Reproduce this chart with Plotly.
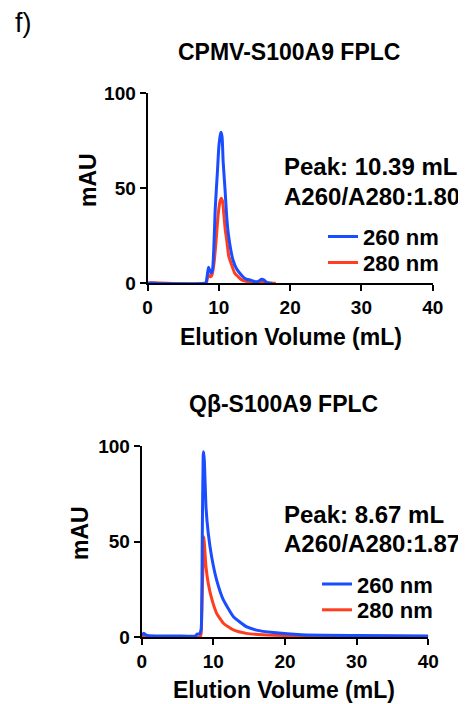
import plotly.graph_objects as go

# the page body adds an 8 px offset; the figure is sized so that it ends at the window edge
OFF = 8
W, H = 466 - OFF, 704 - OFF

# ---- data ----
cpmv_x_260 = [0, 0.5, 1.0, 8.0, 8.2, 8.4, 8.55, 8.7, 8.9, 9.1, 9.5, 9.8, 10.0, 10.2, 10.31, 10.45, 10.6, 10.87, 11.1, 11.33, 11.7, 12.0, 12.5, 13.0, 13.5, 14.0, 14.4, 15.0, 15.5, 16.0, 16.3, 16.7, 17.0, 17.5]
cpmv_y_260 = [0, 0.3, 0, 0, 0.5, 5, 8.5, 7, 5.5, 7, 40, 59, 72, 78, 79.5, 77, 64, 49, 35, 26, 17, 12, 7.5, 5, 3, 2, 1.7, 0.9, 1.0, 2.1, 1.8, 0.5, 0.2, 0]
cpmv_x_280 = [0, 1.0, 8.2, 8.4, 8.6, 8.8, 9.0, 9.3, 9.6, 9.9, 10.15, 10.31, 10.5, 10.7, 10.9, 11.1, 11.4, 11.8, 12.2, 12.7, 13.2, 13.8, 14.5, 15.5, 16.0, 16.5, 17.5, 18.0]
cpmv_y_280 = [0, 0.3, 0, 3, 4.5, 3.5, 4, 10, 22, 36, 43, 44.7, 43.5, 36, 28, 22.8, 14, 9.6, 5.5, 3.5, 1.8, 1.0, 0.5, 0.3, 0.8, 0.3, 0, 0]

qb_x_260 = [0, 0.3, 0.6, 1.0, 5.0, 7.5, 7.7, 8.1, 8.3, 8.45, 8.58, 8.65, 8.75, 8.97, 9.29, 9.76, 10.46, 11.4, 12.8, 14.6, 16.0, 18.4, 22.3, 30.0, 40.0]
qb_y_260 = [1, 2, 1, 0.6, 0.5, 0.5, 1.5, 1.8, 4, 50, 95, 97, 92, 68.2, 54.3, 42, 29.8, 19.4, 10.6, 5.4, 3.6, 2.3, 1.2, 0.8, 0.5]
qb_x_280 = [0, 1.0, 5.0, 8.2, 8.3, 8.5, 8.69, 8.8, 8.97, 9.29, 9.76, 10.46, 11.4, 12.8, 14.6, 18.4, 25.0, 40.0]
qb_y_280 = [0.3, 0.2, 0.2, 0.3, 2, 30, 52.5, 46, 36.8, 28, 20.2, 12.4, 7.2, 3.7, 1.9, 0.9, 0.5, 0.3]

x_ticks = [0, 10, 20, 30, 40]
y_ticks = [0, 50, 100]
colors = {"260 nm": "#1a4dff", "280 nm": "#ff3d1f"}

titles = ["CPMV-S100A9 FPLC", "Qβ-S100A9 FPLC"]
peak_text = ["Peak: 10.39 mL", "Peak: 8.67 mL"]
ratio_text = ["A260/A280:1.80", "A260/A280:1.87"]

FONT = "Liberation Sans, Arial, Helvetica, sans-serif"

def px2x(p):
    return (p - OFF) / W

def px2y(p):
    return 1 - (p - OFF) / H

fig = go.Figure()

# top panel traces (red first so blue sits on top)
fig.add_trace(go.Scatter(x=cpmv_x_280, y=cpmv_y_280, mode="lines", name="280 nm",
                         line=dict(color=colors["280 nm"], width=3, shape="spline", smoothing=0.6),
                         xaxis="x", yaxis="y", legend="legend2"))
fig.add_trace(go.Scatter(x=cpmv_x_260, y=cpmv_y_260, mode="lines", name="260 nm",
                         line=dict(color=colors["260 nm"], width=3, shape="spline", smoothing=0.6),
                         xaxis="x", yaxis="y", legend="legend"))
# bottom panel
fig.add_trace(go.Scatter(x=qb_x_280, y=qb_y_280, mode="lines", name="280 nm",
                         line=dict(color=colors["280 nm"], width=3, shape="spline", smoothing=0.4),
                         xaxis="x2", yaxis="y2", legend="legend4"))
fig.add_trace(go.Scatter(x=qb_x_260, y=qb_y_260, mode="lines", name="260 nm",
                         line=dict(color=colors["260 nm"], width=3, shape="spline", smoothing=0.4),
                         xaxis="x2", yaxis="y2", legend="legend3"))

tickfont = dict(family=FONT, size=19, color="black", weight="bold")
axis_common = dict(showline=True, linewidth=2, linecolor="black", ticks="outside",
                   ticklen=6, tickwidth=2, tickcolor="black", showgrid=False,
                   zeroline=False, tickfont=tickfont, fixedrange=True, automargin=False)

legfont = dict(family=FONT, size=22, color="black", weight="bold")

def leg(xp, yc):
    return dict(x=px2x(xp), y=px2y(yc), xanchor="left", yanchor="middle",
                bgcolor="rgba(0,0,0,0)", font=legfont, borderwidth=0, itemwidth=30)

fig.update_layout(
    template="none",
    width=W, height=H, margin=dict(l=0, r=0, t=0, b=0, pad=0, autoexpand=False),
    paper_bgcolor="white", plot_bgcolor="white",
    xaxis=dict(domain=[px2x(147.6), px2x(432.7)], range=[0, 40], tickvals=x_ticks,
               anchor="y", **axis_common),
    yaxis=dict(domain=[px2y(283.3), px2y(93.3)], range=[0, 100], tickvals=y_ticks,
               anchor="x", **axis_common),
    xaxis2=dict(domain=[px2x(141.7), px2x(428.3)], range=[0, 40], tickvals=x_ticks,
                anchor="y2", **axis_common),
    yaxis2=dict(domain=[px2y(637), px2y(446)], range=[0, 100], tickvals=y_ticks,
                anchor="x2", **axis_common),
    legend=leg(323, 236.7),
    legend2=leg(323, 262.7),
    legend3=leg(317, 584.3),
    legend4=leg(317, 610),
    showlegend=True,
)

bold = lambda s: dict(family=FONT, size=s, color="black", weight="bold")
ann = []
ann.append(dict(text="f)", x=px2x(13), y=px2y(23), xref="paper", yref="paper",
                xanchor="left", yanchor="middle", showarrow=False,
                font=dict(family=FONT, size=27, color="black")))
# titles
ann.append(dict(text=titles[0], x=px2x(289), y=px2y(52), xref="paper", yref="paper",
                xanchor="center", yanchor="middle", showarrow=False, font=bold(23)))
ann.append(dict(text=titles[1], x=px2x(283.5), y=px2y(404), xref="paper", yref="paper",
                xanchor="center", yanchor="middle", showarrow=False, font=bold(23)))
# peak / ratio text
ann.append(dict(text=peak_text[0], x=px2x(282), y=px2y(166), xref="paper", yref="paper",
                xanchor="left", yanchor="middle", showarrow=False, font=bold(24)))
ann.append(dict(text=ratio_text[0], x=px2x(282), y=px2y(196.5), xref="paper", yref="paper",
                xanchor="left", yanchor="middle", showarrow=False, font=bold(24)))
ann.append(dict(text=peak_text[1], x=px2x(282), y=px2y(514), xref="paper", yref="paper",
                xanchor="left", yanchor="middle", showarrow=False, font=bold(24)))
ann.append(dict(text=ratio_text[1], x=px2x(282), y=px2y(543.5), xref="paper", yref="paper",
                xanchor="left", yanchor="middle", showarrow=False, font=bold(24)))
# axis titles
ann.append(dict(text="Elution Volume (mL)", x=px2x(290.5), y=px2y(336.5), xref="paper", yref="paper",
                xanchor="center", yanchor="middle", showarrow=False, font=bold(23)))
ann.append(dict(text="Elution Volume (mL)", x=px2x(284), y=px2y(690), xref="paper", yref="paper",
                xanchor="center", yanchor="middle", showarrow=False, font=bold(23)))
ann.append(dict(text="mAU", x=px2x(88), y=px2y(180), xref="paper", yref="paper", textangle=-90,
                xanchor="center", yanchor="middle", showarrow=False, font=bold(23)))
ann.append(dict(text="mAU", x=px2x(80), y=px2y(533), xref="paper", yref="paper", textangle=-90,
                xanchor="center", yanchor="middle", showarrow=False, font=bold(23)))
fig.update_layout(annotations=ann)

fig.write_html("out.html")
